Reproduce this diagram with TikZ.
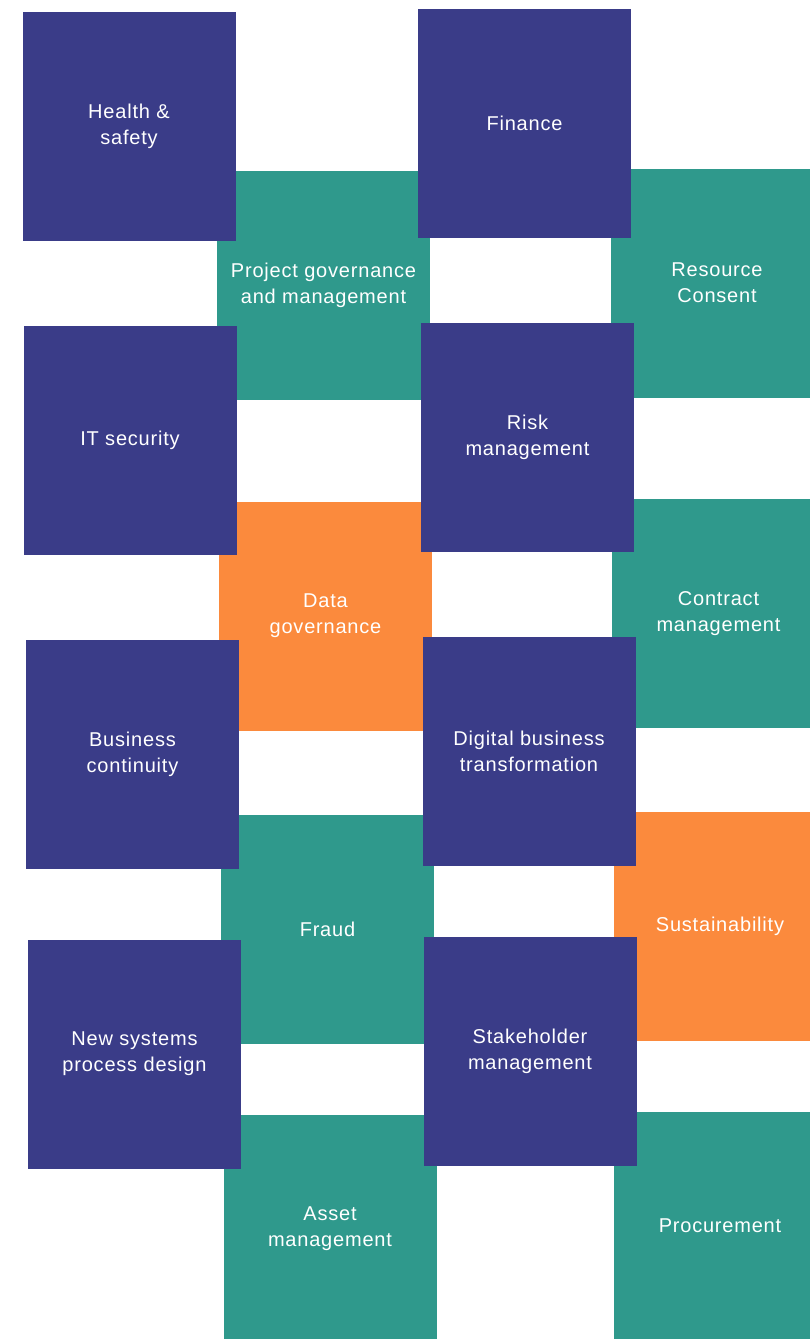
\documentclass[tikz,border=0pt]{standalone}
\usepackage{fontspec}
\setmainfont{Liberation Sans}[LetterSpace=4]
\definecolor{navy}{HTML}{3A3C88}
\definecolor{teal2}{HTML}{2F998C}
\definecolor{orange2}{HTML}{FB8A3D}
\tikzset{
  tile/.style={minimum width=213pt, minimum height=229pt, inner sep=0pt, align=center,
    text=white, font=\fontsize{20}{26}\selectfont},
  navybox/.style={tile, fill=navy},
  tealbox/.style={tile, fill=teal2},
  orangebox/.style={tile, fill=orange2}
}
\begin{document}
\begin{tikzpicture}[x=1pt,y=-1pt]
\useasboundingbox (0,0) rectangle (810,1339);
\clip (0,0) rectangle (810,1339);
\fill[white] (0,0) rectangle (810,1339);
% column 2 and 4 (under)
\node[tealbox]   (pg)  at (323.5,285.5) {Project governance\\and management};
\node[orangebox] (dg)  at (325.5,616)   {Data\\governance};
\node[tealbox]   (fr)  at (327.5,929)   {Fraud};
\node[tealbox]   (am)  at (330,1229)    {Asset\\management};
\node[tealbox]   (rc)  at (717,283)     {Resource\\Consent};
\node[tealbox]   (cm)  at (718.5,613.5) {Contract\\management};
\node[orangebox] (su)  at (720,926)     {Sustainability};
\node[tealbox]   (pr)  at (720,1226)    {Procurement};
% column 1 and 3 (over)
\node[navybox] (hs) at (129,126)    {Health \&\\safety};
\node[navybox] (it) at (130,440)    {IT security};
\node[navybox] (bc) at (132.5,754)  {Business\\continuity};
\node[navybox] (ns) at (134.5,1054) {New systems\\process design};
\node[navybox] (fi) at (524.5,123)  {Finance};
\node[navybox] (rm) at (527.5,437.5){Risk\\management};
\node[navybox] (db) at (529,751)    {Digital business\\transformation};
\node[navybox] (sm) at (530,1051)   {Stakeholder\\management};
\end{tikzpicture}
\end{document}
